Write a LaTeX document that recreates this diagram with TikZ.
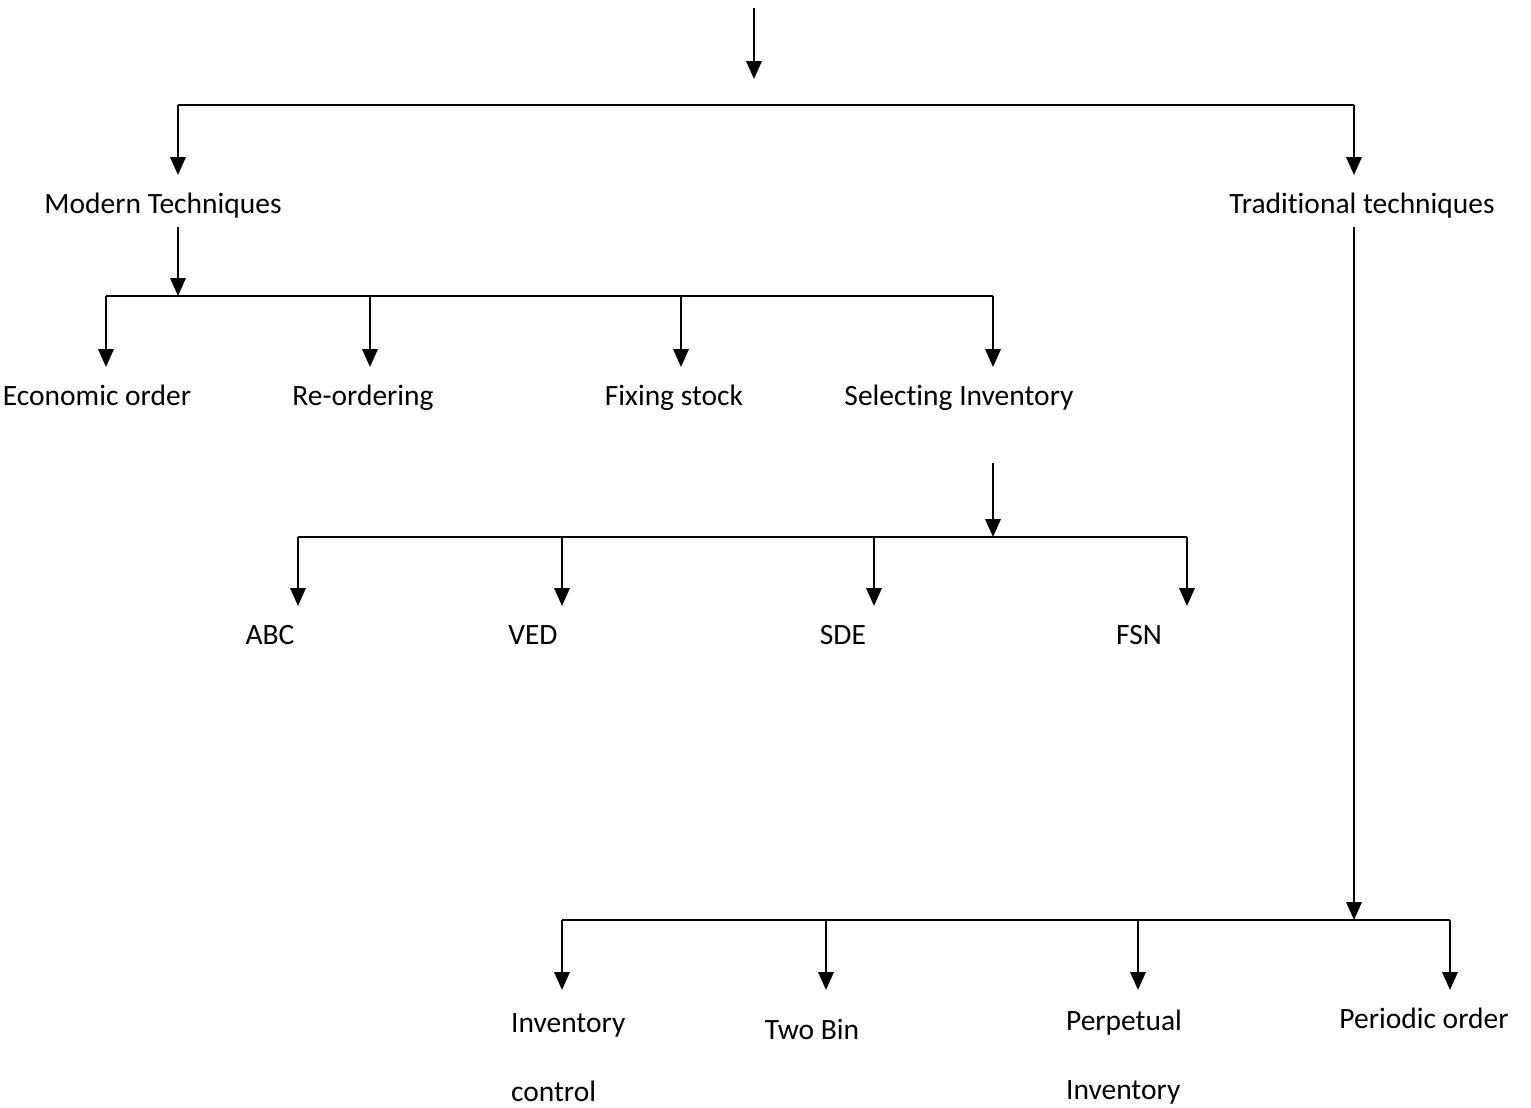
\documentclass[tikz,border=0pt]{standalone}
\usepackage{fontspec}
\setmainfont{Carlito}[Ligatures=CommonOff]
\usetikzlibrary{arrows.meta}

\begin{document}
\begin{tikzpicture}[
    x=0.39pt, y=-0.39pt,     % work in pixels of the page, y downwards
    line width=0.85pt,
    arr/.style={-{Triangle[length=7pt,width=6pt]}},  % filled arrow heads
    tag/.style={
        anchor=north,
        inner xsep=0pt,
        inner ysep=6.3pt,   % gap between arrow tip and the text
        font=\fontsize{11.5}{13}\selectfont
    },
    onetag/.style={tag, text height=8.3pt, text depth=2.6pt},
    twotag/.style={tag, anchor=north west, align=left,
        font=\fontsize{11.5}{27}\selectfont}  % wide line spacing
]
\useasboundingbox (0,0) rectangle (1531,1108);

% top level
\coordinate (src) at (754,8);
\coordinate (srcend) at (754,79);
\coordinate (r1) at (178,105);
\coordinate (r2) at (1354,105);
\node[onetag] (modern) at (163,175) {Modern Techniques};
\node[onetag] (trad) at (1362,175) {Traditional techniques};

% modern techniques
\coordinate (m0) at (178,296);
\coordinate (m1) at (106,296);
\coordinate (m2) at (370,296);
\coordinate (m3) at (681,296);
\coordinate (m4) at (993,296);
\node[onetag] (eco) at (97,367) {Economic order};
\node[onetag] (reord) at (363,367) {Re-ordering};
\node[onetag] (fix) at (674,367) {Fixing stock};
\node[onetag] (sel) at (959,367) {Selecting Inventory};

% selecting inventory
\coordinate (s0top) at (993,463);
\coordinate (s0) at (993,537);
\coordinate (s1) at (298,537);
\coordinate (s2) at (562,537);
\coordinate (s3) at (874,537);
\coordinate (s4) at (1187,537);
\node[onetag] (abc) at (270,606) {ABC};
\node[onetag] (ved) at (533,606) {VED};
\node[onetag] (sde) at (843,606) {SDE};
\node[onetag] (fsn) at (1139,606) {FSN};

% traditional techniques
\coordinate (t0) at (1354,920);
\coordinate (t1) at (562,920);
\coordinate (t2) at (826,920);
\coordinate (t3) at (1138,920);
\coordinate (t4) at (1450,920);
\node[twotag] (invc) at (510,996) {Inventory\\control};
\node[onetag] (twobin) at (812,1001) {Two Bin};
\node[twotag] (perp) at (1065,993) {Perpetual\\Inventory};
\node[onetag] (peri) at (1424,990) {Periodic order};

% connectors
\draw[arr] (src) -- (srcend);
\draw (r1) -- (r2);
\draw[arr] (r1) -- (r1 |- modern.north);
\draw[arr] (r2) -- (r2 |- trad.north);

\draw[arr] ([yshift=4pt]modern.south -| m0) -- (m0);
\draw (m1) -- (m4);
\foreach \j/\n in {m1/eco, m2/reord, m3/fix, m4/sel}
    \draw[arr] (\j) -- (\j |- \n.north);

\draw[arr] (s0top) -- (s0);
\draw (s1) -- (s4);
\foreach \j/\n in {s1/abc, s2/ved, s3/sde, s4/fsn}
    \draw[arr] (\j) -- (\j |- \n.north);

\draw[arr] ([yshift=4pt]trad.south -| t0) -- (t0);
\draw (t1) -- (t4);
\draw[arr] (t1) -- (t1 |- 0,990);
\draw[arr] (t2) -- (t2 |- 0,990);
\draw[arr] (t3) -- (t3 |- 0,990);
\draw[arr] (t4) -- (t4 |- peri.north);
\end{tikzpicture}
\end{document}
